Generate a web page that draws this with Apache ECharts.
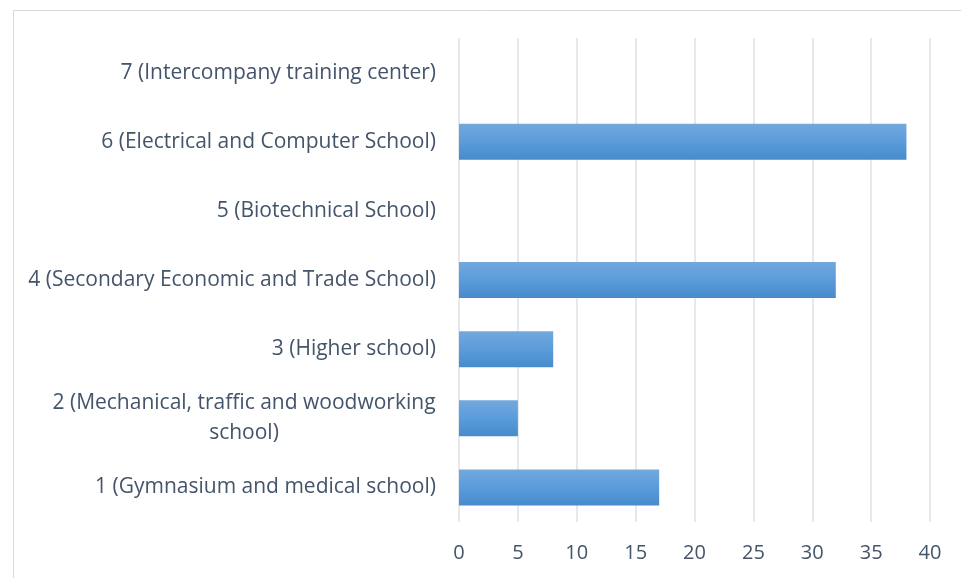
<!DOCTYPE html>
<html>
<head>
<meta charset="utf-8">
<script src="https://cdn.jsdelivr.net/npm/echarts@6/dist/echarts.min.js"></script>
<style>html,body{margin:0;padding:0;background:#fff}#c{width:961px;height:578px}</style>
</head>
<body>
<div id="c"></div>
<script>
var categories = [
  "1 (Gymnasium and medical school)",
  "2 (Mechanical, traffic and woodworking\nschool)",
  "3 (Higher school)",
  "4 (Secondary Economic and Trade School)",
  "5 (Biotechnical School)",
  "6 (Electrical and Computer School)",
  "7 (Intercompany training center)"
];
var values = [17, 5, 8, 32, null, 38, null];
var xTicks = { min: 0, max: 40, interval: 5 };

var chart = echarts.init(document.getElementById('c'), null, { renderer: 'canvas' });
var font = '"Open Sans", sans-serif';
chart.setOption({
  animation: false,
  graphic: [{
    type: 'rect', left: 11, top: 8,
    shape: { width: 1000, height: 1000 },
    style: { fill: 'none', stroke: '#d9d9d9', lineWidth: 1 }
  }],
  grid: { left: 459, right: 31, top: 38, bottom: 56 },
  xAxis: {
    type: 'value', min: xTicks.min, max: xTicks.max, interval: xTicks.interval,
    axisLine: { show: false }, axisTick: { show: false },
    splitLine: { show: true, lineStyle: { color: '#dde1e6', width: 1.5 } },
    axisLabel: { color: '#44546a', fontSize: 20, fontFamily: font, margin: 21 }
  },
  yAxis: {
    type: 'category', data: categories,
    axisLine: { show: false }, axisTick: { show: false },
    splitLine: { show: false },
    axisLabel: {
      color: '#44546a', fontSize: 21, fontFamily: font, margin: 23,
      lineHeight: 30, interval: 0,
      formatter: function (v) {
        if (v.indexOf('\n') >= 0) {
          return v.split('\n').map(function (l) { return '{c|' + l + '}'; }).join('\n');
        }
        return v;
      },
      rich: { c: { width: 384, align: 'center', color: '#44546a', fontSize: 21, fontFamily: font, lineHeight: 30 } }
    }
  },
  series: [{
    type: 'bar', data: values, barWidth: 36,
    itemStyle: {
      color: new echarts.graphic.LinearGradient(0, 0, 0, 1, [
        { offset: 0, color: '#72a8dd' },
        { offset: 0.5, color: '#5b9cdb' },
        { offset: 1, color: '#478bcb' }
      ])
    }
  }]
});
</script>
</body>
</html>
